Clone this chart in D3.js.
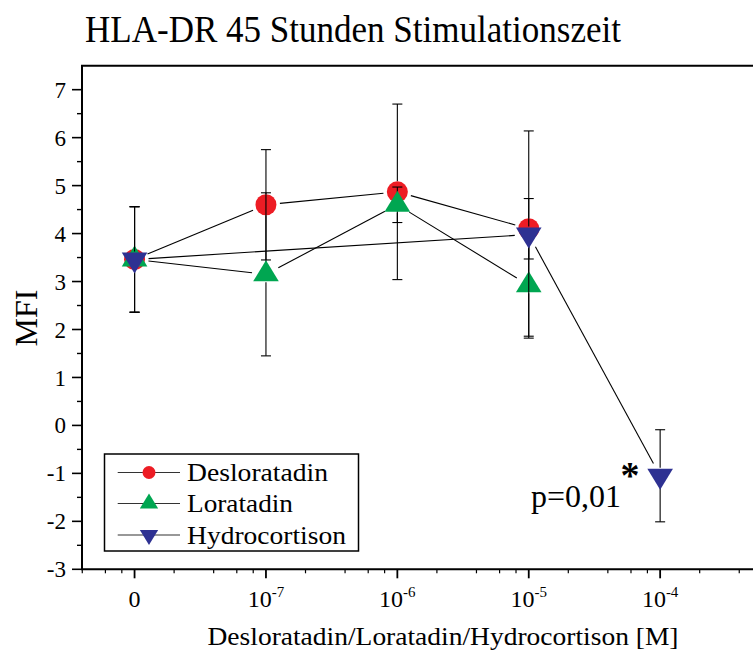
<!DOCTYPE html>
<html>
<head>
<meta charset="utf-8">
<script src="https://cdn.jsdelivr.net/npm/d3@7"></script>
<style>
  body { margin: 0; background: #fff; }
  svg { display: block; }
  text { font-family: "Liberation Serif", "Times New Roman", Times, serif; fill: #000; }
</style>
</head>
<body>
<svg id="chart" width="753" height="651"></svg>
<script>
// concentrations in M, "0" is drawn at 1e-8 on the log axis
const tickValues = [1e-8, 1e-7, 1e-6, 1e-5, 1e-4];
const tickBase = ["0", "10", "10", "10", "10"];
const tickExp = ["", "-7", "-6", "-5", "-4"];

const deslX = [1e-8, 1e-7, 1e-6, 1e-5];
const deslMean = [3.46, 4.6, 4.87, 4.1];
const deslErr = [1.1, 1.15, 1.83, 0.63];

const loraX = [1e-8, 1e-7, 1e-6, 1e-5];
const loraMean = [3.46, 3.15, 4.6, 2.92];
const loraErr = [1.1, 1.7, 0.37, 1.06];

const hydroX = [1e-8, 1e-5, 1e-4];
const hydroMean = [3.46, 3.98, -1.05];
const hydroErr = [1.1, 2.16, 0.96];

const series = [
  { name: "Desloratadin", color: "#ED1C24", shape: "circle", x: deslX, y: deslMean, e: deslErr },
  { name: "Loratadin", color: "#00A651", shape: "up", x: loraX, y: loraMean, e: loraErr },
  { name: "Hydrocortison", color: "#2E3192", shape: "down", x: hydroX, y: hydroMean, e: hydroErr }
];

const svg = d3.select("#chart");
const plotLeft = 82, plotTop = 65.7, plotBottom = 569.3, plotRight = 760;

const x = d3.scaleLog().domain([Math.pow(10, -8.4), Math.pow(10, -3.24)]).range([plotLeft, plotRight]);
const y = d3.scaleLinear().domain([-3, 7.5]).range([plotBottom, plotTop]);

// marker path, centred on the centroid like Origin does
function markerPath(shape, s) {
  if (shape === "circle") {
    return d3.arc()({ innerRadius: 0, outerRadius: s / 2, startAngle: 0, endAngle: 2 * Math.PI });
  }
  const w = s * 1.22, h = s;
  if (shape === "up") return `M0,${-2 * h / 3}L${w / 2},${h / 3}L${-w / 2},${h / 3}Z`;
  return `M0,${2 * h / 3}L${w / 2},${-h / 3}L${-w / 2},${-h / 3}Z`;
}

// title
svg.append("text")
  .attr("x", 85).attr("y", 42)
  .attr("textLength", 536).attr("lengthAdjust", "spacingAndGlyphs")
  .style("font-size", "38px")
  .text("HLA-DR 45 Stunden Stimulationszeit");

// frame (left, top, bottom)
const frame = svg.append("g").attr("stroke", "#000").attr("stroke-width", 2).attr("fill", "none");
frame.append("path").attr("d", `M${plotRight},${plotTop}H${plotLeft}V${plotBottom}H${plotRight}`);

// y ticks
const yMajor = d3.range(-3, 8, 1);
const yMinor = d3.range(-2.5, 7.5, 1);
frame.selectAll("line.ymaj").data(yMajor).enter().append("line")
  .attr("x1", plotLeft - 10).attr("x2", plotLeft).attr("y1", d => y(d)).attr("y2", d => y(d)).attr("stroke-width", 1.6);
frame.selectAll("line.ymin").data(yMinor).enter().append("line")
  .attr("x1", plotLeft - 5).attr("x2", plotLeft).attr("y1", d => y(d)).attr("y2", d => y(d)).attr("stroke-width", 1.4);

svg.selectAll("text.ytick").data(yMajor).enter().append("text")
  .attr("x", 66).attr("y", d => y(d)).attr("dy", "0.35em")
  .attr("text-anchor", "end").style("font-size", "23px")
  .text(d => d);

// x ticks, log minor ticks at 2,4,6,8
const xMinor = [];
for (let k = -9; k <= -4; k++) {
  [2, 4, 6, 8].forEach(m => {
    const v = m * Math.pow(10, k);
    if (v > x.domain()[0] && v < x.domain()[1]) xMinor.push(v);
  });
}
frame.selectAll("line.xmin").data(xMinor).enter().append("line")
  .attr("x1", d => x(d)).attr("x2", d => x(d)).attr("y1", plotBottom).attr("y2", plotBottom + 4).attr("stroke-width", 1.2);
frame.selectAll("line.xmaj").data(tickValues).enter().append("line")
  .attr("x1", d => x(d)).attr("x2", d => x(d)).attr("y1", plotBottom).attr("y2", plotBottom + 9).attr("stroke-width", 1.8);

const xt = svg.selectAll("text.xtick").data(tickValues).enter().append("text")
  .attr("x", d => x(d)).attr("y", 607)
  .attr("text-anchor", "middle").style("font-size", "24px");
xt.append("tspan").text((d, i) => tickBase[i]);
xt.append("tspan").attr("dy", -10).style("font-size", "15px").text((d, i) => tickExp[i]);

// axis titles
svg.append("text")
  .attr("x", 443).attr("y", 645).attr("text-anchor", "middle")
  .attr("textLength", 471).attr("lengthAdjust", "spacingAndGlyphs")
  .style("font-size", "25px")
  .text("Desloratadin/Loratadin/Hydrocortison [M]");

svg.append("text")
  .attr("transform", "translate(37,318) rotate(-90)")
  .attr("text-anchor", "middle").style("font-size", "32px")
  .text("MFI");

// connecting lines, stopped short of the markers
const gap = 14;
const linesG = svg.append("g").attr("stroke", "#000").attr("stroke-width", 1.1);
series.forEach(s => {
  for (let i = 0; i < s.x.length - 1; i++) {
    const x1 = x(s.x[i]), y1 = y(s.y[i]), x2 = x(s.x[i + 1]), y2 = y(s.y[i + 1]);
    const len = Math.hypot(x2 - x1, y2 - y1);
    const ux = (x2 - x1) / len, uy = (y2 - y1) / len;
    linesG.append("line")
      .attr("x1", x1 + ux * gap).attr("y1", y1 + uy * gap)
      .attr("x2", x2 - ux * gap).attr("y2", y2 - uy * gap);
  }
});

// error bars and markers, series by series
series.forEach(s => {
  const g = svg.append("g");
  const pts = s.x.map((v, i) => ({ x: v, y: s.y[i], e: s.e[i] }));
  const half = s.shape === "circle" ? 10.5 : 8;
  const eb = g.append("g").attr("stroke", "#000").attr("stroke-width", 1.1);
  pts.forEach(p => {
    const cx = x(p.x), cy = y(p.y), yt = y(p.y + p.e), yb = y(p.y - p.e);
    eb.append("line").attr("x1", cx).attr("x2", cx).attr("y1", yt).attr("y2", cy - half);
    eb.append("line").attr("x1", cx).attr("x2", cx).attr("y1", cy + half).attr("y2", yb);
    eb.append("line").attr("x1", cx - 5).attr("x2", cx + 5).attr("y1", yt).attr("y2", yt);
    eb.append("line").attr("x1", cx - 5).attr("x2", cx + 5).attr("y1", yb).attr("y2", yb);
  });
  g.selectAll("path").data(pts).enter().append("path")
    .attr("transform", d => `translate(${x(d.x)},${y(d.y)})`)
    .attr("d", markerPath(s.shape, 21))
    .attr("fill", s.color);
});

// significance note
svg.append("text")
  .attr("x", 531).attr("y", 507)
  .attr("textLength", 90).attr("lengthAdjust", "spacingAndGlyphs")
  .style("font-size", "32px")
  .text("p=0,01");
svg.append("text")
  .attr("x", 630).attr("y", 488).attr("text-anchor", "middle")
  .style("font-size", "38px").style("font-weight", "bold")
  .text("*");

// legend
const legend = svg.append("g");
legend.append("rect")
  .attr("x", 104.5).attr("y", 454).attr("width", 254).attr("height", 97)
  .attr("fill", "#fff").attr("stroke", "#000").attr("stroke-width", 1.5);
const legendRows = [472.5, 503.5, 535];
const legendWidths = [141, 106, 159];
series.forEach((s, i) => {
  const ry = legendRows[i];
  legend.append("line").attr("x1", 117.7).attr("x2", 180).attr("y1", ry).attr("y2", ry)
    .attr("stroke", "#333").attr("stroke-width", 1.1);
  legend.append("path")
    .attr("transform", `translate(149,${ry})`)
    .attr("d", markerPath(s.shape, s.shape === "circle" ? 13 : 15))
    .attr("fill", s.color);
  legend.append("text")
    .attr("x", 187).attr("y", ry).attr("dy", "0.35em")
    .attr("textLength", legendWidths[i]).attr("lengthAdjust", "spacingAndGlyphs")
    .style("font-size", "25px")
    .text(s.name);
});
</script>
</body>
</html>
